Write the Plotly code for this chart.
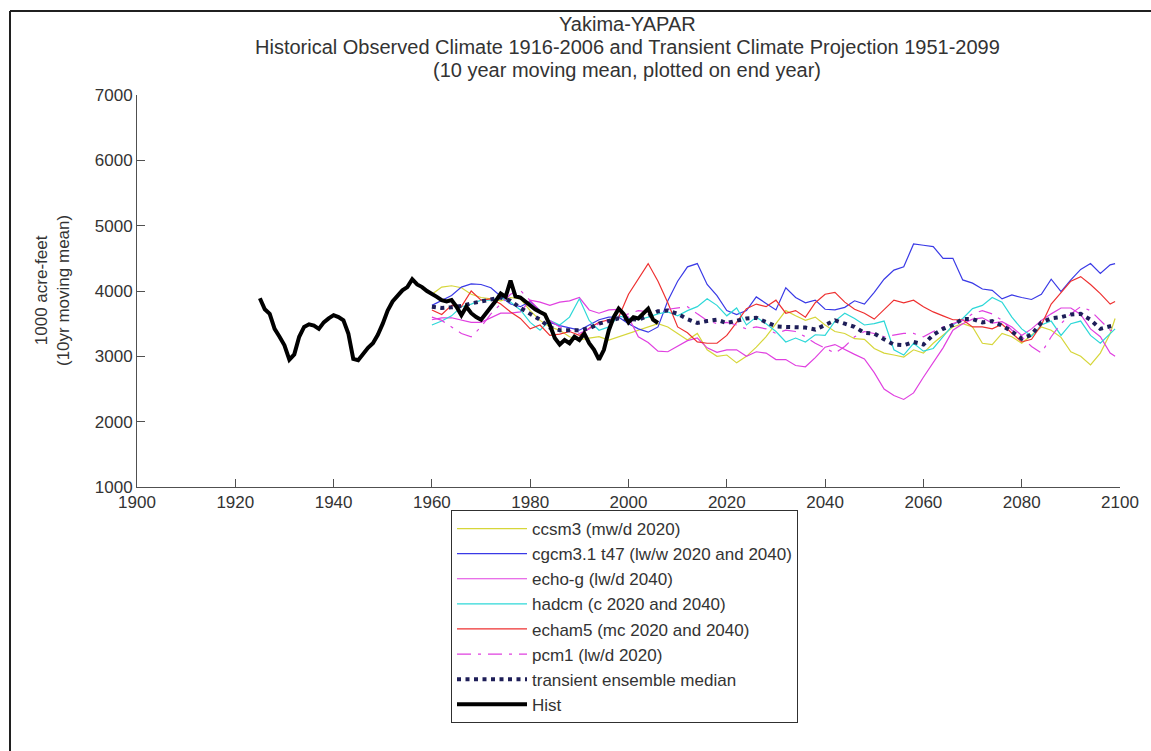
import plotly.graph_objects as go

# ---------------- data ----------------
hist_years = list(range(1925, 2007))
hist_vals = [3890, 3720, 3650, 3420, 3300, 3170, 2950, 3030, 3300, 3450,
             3490, 3470, 3420, 3520, 3580, 3630, 3600, 3550, 3350, 2960,
             2940, 3040, 3130, 3200, 3330, 3500, 3700, 3840, 3930, 4010,
             4060, 4180, 4100, 4060, 4000, 3960, 3910, 3860, 3840, 3860,
             3760, 3630, 3760, 3660, 3600, 3560, 3650, 3760, 3850, 3960,
             3910, 4160, 3920, 3900, 3840, 3770, 3720, 3680, 3640, 3480,
             3280, 3180, 3250, 3200, 3300, 3250, 3350, 3200, 3100, 2950,
             3100, 3400, 3600, 3730, 3650, 3520, 3600, 3580, 3650, 3730,
             3560, 3510]

proj_years = list(range(1960, 2100, 2)) + [2099]

ccsm3 = [3950, 4060, 4080, 4050, 3950, 3900, 3880, 3850, 3900, 3880,
         3700, 3550, 3450, 3400, 3300, 3250, 3280, 3300, 3250, 3300,
         3350, 3400, 3450, 3500, 3450, 3350, 3250, 3350, 3100, 3000,
         3020, 2900, 3000, 3140, 3300, 3500, 3700, 3620, 3550, 3600,
         3480, 3380, 3350, 3270, 3260, 3120, 3050, 3020, 2990, 3100,
         3050, 3200, 3330, 3450, 3500, 3450, 3200, 3180, 3350, 3300,
         3200, 3330, 3450, 3400, 3290, 3070, 3000, 2870, 3050, 3350,
         3580]
cgcm31 = [3780, 3850, 3930, 4060, 4110, 4100, 4050, 3920, 3800, 3760,
          3840, 3700, 3520, 3470, 3430, 3400, 3480, 3560, 3600, 3600,
          3500, 3420, 3370, 3450, 3850, 4150, 4370, 4420, 4100, 3930,
          3700, 3640, 3700, 3910, 3810, 3710, 4050, 3900, 3820, 3860,
          3720, 3710, 3750, 3850, 3800, 3980, 4180, 4320, 4370, 4720,
          4700, 4680, 4500, 4500, 4170, 4120, 4030, 4010, 3880, 3940,
          3900, 3870, 3950, 4180, 3990, 4170, 4330, 4420, 4270, 4400,
          4420]
echog = [3560, 3590, 3590, 3560, 3520, 3520, 3590, 3660, 3660, 3680,
         3860, 3830, 3780, 3830, 3850, 3900, 3710, 3660, 3710, 3720,
         3600, 3300, 3210, 3080, 3070, 3150, 3240, 3280, 3130, 3060,
         3100, 3100, 3000, 3070, 3050, 2950, 2950, 2860, 2840, 2980,
         3140, 3180, 3100, 3030, 2960, 2750, 2500, 2400, 2340, 2440,
         2680, 2900, 3130, 3400, 3500, 3570, 3590, 3510, 3530, 3450,
         3320, 3420, 3550, 3650, 3740, 3740, 3640, 3420, 3300, 3050,
         3000]
hadcm = [3480, 3540, 3620, 3760, 3800, 3860, 3860, 3900, 3830, 3710,
         3520, 3400, 3550, 3480, 3600, 3880, 3550, 3400, 3450, 3620,
         3580, 3560, 3600, 3650, 3680, 3620, 3700, 3760, 3880, 3780,
         3620, 3740, 3480, 3600, 3500, 3380, 3220, 3280, 3220, 3330,
         3320, 3540, 3660, 3580, 3480, 3500, 3540, 3100, 3020, 3200,
         3080, 3120, 3300, 3480, 3580, 3730, 3780, 3900, 3830, 3600,
         3420, 3310, 3480, 3540, 3320, 3500, 3540, 3320, 3200, 3350,
         3420]
echam5 = [3710, 3640, 3780, 3760, 4000, 3860, 3880, 3800, 3680, 3580,
          3420, 3480, 3320, 3340, 3380, 3320, 3430, 3520, 3560, 3600,
          3950, 4180, 4420, 4150, 3820, 3450, 3360, 3220, 3200, 3200,
          3320, 3520, 3730, 3800, 3760, 3860, 3660, 3700, 3600, 3820,
          3950, 3980, 3830, 3720, 3660, 3570, 3720, 3860, 3820, 3860,
          3760, 3680, 3620, 3560, 3560, 3450, 3450, 3420, 3490, 3360,
          3220, 3260, 3480, 3800, 3980, 4150, 4220, 4100, 3960, 3800,
          3840]
pcm1 = [3600, 3550, 3450, 3350, 3300, 3450, 3650, 3800, 3950, 4010,
        3850, 3700, 3550, 3450, 3400, 3350, 3420, 3500, 3550, 3600,
        3650, 3700, 3680, 3700, 3720, 3740, 3760, 3650, 3550, 3500,
        3520, 3480, 3420, 3450, 3420, 3350, 3400, 3380, 3300, 3200,
        3120, 3050, 3150, 3300, 3380, 3350, 3300, 3320, 3350, 3350,
        3300, 3380, 3450, 3500, 3550, 3650, 3700, 3650, 3550, 3400,
        3300, 3150, 3050, 3300, 3500, 3650, 3760, 3700, 3550, 3400,
        3380]
median = [3760, 3740, 3750, 3770, 3810, 3840, 3870, 3900, 3850, 3740,
          3650, 3560, 3440, 3400, 3400, 3400, 3430, 3500, 3540, 3580,
          3570, 3560, 3620, 3690, 3700, 3650, 3570, 3510, 3540, 3560,
          3510, 3540, 3580, 3590, 3520, 3460, 3450, 3450, 3440, 3410,
          3480, 3550, 3500, 3450, 3360, 3350, 3260, 3180, 3170, 3220,
          3180, 3330, 3420, 3480, 3570, 3570, 3520, 3540, 3470, 3380,
          3270, 3330, 3520, 3580, 3600, 3640, 3650, 3560, 3420, 3460,
          3480]

x_ticks = [1900, 1920, 1940, 1960, 1980, 2000, 2020, 2040, 2060, 2080, 2100]
y_ticks = [1000, 2000, 3000, 4000, 5000, 6000, 7000]

series = [
    ("ccsm3 (mw/d 2020)", ccsm3, "#d6d63a", "solid", 1.2),
    ("cgcm3.1 t47 (lw/w 2020 and 2040)", cgcm31, "#3a3ae6", "solid", 1.2),
    ("echo-g (lw/d 2040)", echog, "#e040e0", "solid", 1.2),
    ("hadcm (c 2020 and 2040)", hadcm, "#2ed8d8", "solid", 1.2),
    ("echam5 (mc 2020 and 2040)", echam5, "#ee3030", "solid", 1.2),
    ("pcm1 (lw/d 2020)", pcm1, "#e040e0", "14px,7px,3px,7px", 1.2),
]

FONT = "Liberation Sans, Arial, sans-serif"

fig = go.Figure()
for i, (name, vals, col, dash, w) in enumerate(series):
    fig.add_trace(go.Scatter(x=proj_years, y=vals, mode="lines", name=name,
                             legendgroup=f"g{i}",
                             line=dict(color=col, width=w, dash=dash)))
fig.add_trace(go.Scatter(x=proj_years, y=median, mode="lines",
                         name="transient ensemble median", legendgroup="g7",
                         line=dict(color="#1e1e58", width=4, dash="4px,4.5px")))
fig.add_trace(go.Scatter(x=hist_years, y=hist_vals, mode="lines",
                         name="Hist", legendgroup="g8",
                         line=dict(color="black", width=4)))

axis_common = dict(showgrid=False, zeroline=False, showline=True,
                   linecolor="#505050", linewidth=1, ticks="inside",
                   ticklen=8, tickcolor="#505050", tickwidth=1,
                   tickfont=dict(family=FONT, size=17, color="#333333"))

fig.update_xaxes(range=[1900, 2100], tickvals=x_ticks, **axis_common)
fig.update_yaxes(range=[1000, 7000], tickvals=y_ticks, **axis_common)

title_lines = ["Yakima-YAPAR",
               "Historical Observed Climate 1916-2006 and Transient Climate Projection 1951-2099",
               "(10 year moving mean, plotted on end year)"]
annos = []
for k, t in enumerate(title_lines):
    annos.append(dict(text=t, xref="paper", yref="paper", x=0.4985,
                      y=(487 - (24 + 23 * k)) / 392, xanchor="center",
                      yanchor="middle", showarrow=False,
                      font=dict(family=FONT, size=20, color="#333333")))
annos.append(dict(text="1000 acre-feet<br>(10yr moving mean)", xref="paper",
                  yref="paper", x=(52 - 137) / 983, y=0.5, textangle=-90,
                  xanchor="center", yanchor="middle", showarrow=False,
                  font=dict(family=FONT, size=17, color="#333333")))

shapes = [
    dict(type="line", xref="paper", yref="paper",
         x0=(10 - 137) / 983, x1=(1160 - 137) / 983,
         y0=(487 - 11) / 392, y1=(487 - 11) / 392,
         line=dict(color="#202020", width=2)),
    dict(type="line", xref="paper", yref="paper",
         x0=(10 - 137) / 983, x1=(10 - 137) / 983,
         y0=(487 - 11) / 392, y1=(487 - 760) / 392,
         line=dict(color="#202020", width=2)),
]

fig.update_layout(
    width=1151, height=751,
    margin=dict(l=137, r=31, t=95, b=264),
    paper_bgcolor="white", plot_bgcolor="white",
    annotations=annos, shapes=shapes,
    showlegend=True,
    legend=dict(x=(451 - 137) / 983, y=(487 - 510) / 392,
                xanchor="left", yanchor="top",
                bgcolor="white", bordercolor="#303030", borderwidth=1,
                font=dict(family=FONT, size=17, color="#333333"),
                itemwidth=70, tracegroupgap=0),
)

fig.write_html("out.html")
